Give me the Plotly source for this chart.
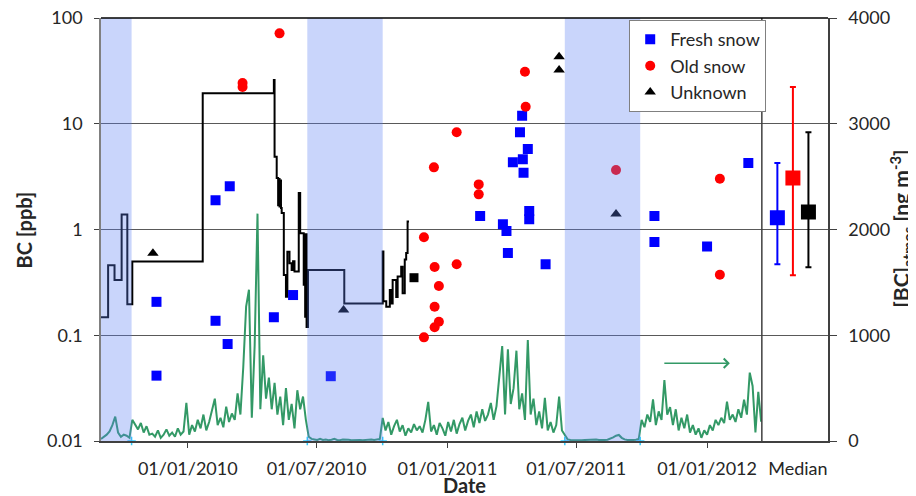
import pandas as pd
import plotly.graph_objects as go

# snow samples, BC in ppb
fresh_dates = ['2009-11-18', '2009-11-18', '2010-02-09', '2010-02-09', '2010-02-26', '2010-03-01',
               '2010-05-02', '2010-05-29', '2010-07-21', '2011-02-16', '2011-03-20', '2011-03-25',
               '2011-03-27', '2011-04-03', '2011-04-13', '2011-04-16', '2011-04-17', '2011-04-18',
               '2011-04-24', '2011-04-26', '2011-04-26', '2011-05-19', '2011-10-19', '2011-10-19',
               '2012-01-01', '2012-02-28']
fresh_bc = [0.207, 0.0415, 1.89, 0.137, 0.0826, 2.56,
            0.148, 0.24, 0.041, 1.34, 1.12, 0.968,
            0.60, 4.32, 8.3, 11.9, 4.61, 3.44,
            5.77, 1.50, 1.25, 0.469, 1.34, 0.762,
            0.689, 4.25]

old_dates = ['2010-03-19', '2010-03-19', '2010-05-10', '2010-11-29', '2010-11-29', '2010-12-13',
             '2010-12-14', '2010-12-14', '2010-12-14', '2010-12-20', '2010-12-20', '2011-01-14',
             '2011-01-14', '2011-02-14', '2011-02-14', '2011-04-20', '2011-04-21', '2011-08-26',
             '2012-01-19', '2012-01-19']
old_bc = [24.3, 22.3, 71.6, 0.844, 0.0955, 3.87,
          0.442, 0.186, 0.119, 0.292, 0.134, 8.3,
          0.469, 2.67, 2.15, 31.0, 14.5, 3.65,
          3.02, 0.374]

unknown_dates = ['2009-11-13', '2010-08-08', '2011-06-07', '2011-06-07', '2011-08-26']
unknown_bc = [0.595, 0.173, 43.1, 32.2, 1.40]

extra_dates = ['2010-11-15']
extra_bc = [0.35]

# step line (ppb)
step_dates = ['2009-09-01', '2009-09-11', '2009-09-20', '2009-09-30', '2009-10-08', '2009-10-15',
              '2010-01-22', '2010-05-02', '2010-05-03', '2010-05-06', '2010-05-08', '2010-05-09',
              '2010-05-10', '2010-05-11', '2010-05-12', '2010-05-13', '2010-05-16', '2010-05-19',
              '2010-05-21', '2010-05-24', '2010-05-27', '2010-05-29', '2010-05-31', '2010-06-06',
              '2010-06-08', '2010-06-13', '2010-06-14', '2010-06-15', '2010-06-16', '2010-06-17',
              '2010-06-19', '2010-08-09', '2010-10-02', '2010-10-03', '2010-10-07', '2010-10-12',
              '2010-10-14', '2010-10-16', '2010-10-21', '2010-10-23', '2010-10-28', '2010-10-30',
              '2010-11-02', '2010-11-04', '2010-11-06', '2010-11-08']
step_bc = [0.148, 0.46, 0.333, 1.39, 0.196, 0.497,
           19.4, 25.9, 4.88, 3.07, 1.7, 3.0,
           1.65, 2.9, 1.6, 1.43, 0.372, 0.231,
           0.617, 0.479, 0.414, 0.5, 0.40, 2.21,
           0.92, 0.3, 0.9, 0.15, 0.9, 0.12,
           0.414, 0.2, 0.62, 0.21, 0.186, 0.268,
           0.2, 0.333, 0.23, 0.36, 0.445, 0.25,
           0.519, 0.6, 1.19, 1.19]

# atmospheric BC (ng m-3), one value every 4 days from 1 Sep 2009
atmos_start = '2009-09-01'
atmos_bc = [20, 40, 60, 90, 150, 230, 80, 40, 60, 50, 30,
            200, 150, 110, 170, 80, 140, 60,
            70, 40, 100, 30, 60, 110, 50, 80, 40, 120, 60, 90,
            360,
            60, 150, 90, 200, 120, 250, 100, 180, 300, 400, 150, 220, 130, 325, 180, 260, 200,
            450, 250,
            700, 1270, 1430, 220, 900, 2150, 300, 810, 400, 600, 300, 550, 250, 420, 150, 500,
            200, 350, 120, 480, 300, 420, 200,
            40, 20, 15, 10, 20, 10, 15, 8, 12, 20, 10, 8, 15, 10, 12, 8, 10, 15, 10, 8, 12, 10,
            15, 10, 12, 20,
            218,
            100, 180, 60, 140, 200, 90, 150, 50, 120, 80, 160,
            100, 140, 80, 200, 370, 90, 150, 60, 170, 120, 50, 180, 90, 200, 70, 160, 220, 100,
            190, 250, 130, 280, 170, 300, 190, 250, 360, 200, 330,
            600, 898, 250, 867, 350, 500, 854, 300, 450, 200, 955, 250, 400, 150, 280, 120, 407,
            100, 180, 80, 150, 420, 100, 50,
            15, 10, 8, 12, 10, 8, 10, 12, 8, 10, 15, 10, 8, 10, 12, 20, 35, 50, 57, 30, 15, 10,
            8, 10, 12, 20,
            200, 130, 250, 180, 394, 150, 280, 200, 577, 250, 320, 150, 300, 100, 220, 120, 250,
            80, 150, 60, 120, 30, 100, 60, 150, 100, 200, 150, 220, 170, 372, 200, 250, 180, 300,
            220, 390, 250, 646, 520, 80, 466, 182]
atmos_dates = pd.date_range(atmos_start, periods=len(atmos_bc), freq='4D')

# snow-free periods
band_starts = ['2009-09-01', '2010-06-18', '2011-06-15']
band_ends = ['2009-10-14', '2010-10-02', '2011-09-29']

# medians (ppb)
median_names = ['Fresh snow', 'Old snow', 'Unknown']
median_bc = [1.29, 3.07, 1.46]
median_hi = [4.26, 22.3, 8.3]
median_lo = [0.47, 0.37, 0.44]
median_colors = ['#0000ff', '#ff0000', '#000000']

date_ticks = ['2010-01-01', '2010-07-01', '2011-01-01', '2011-07-01', '2012-01-01']
bc_ticks = [0.01, 0.1, 1, 10, 100]
bc_ticktext = ['0.01', '0.1', '1', '10', '100']
atmos_ticks = [0, 1000, 2000, 3000, 4000]

fig = go.Figure()

fig.add_trace(go.Scatter(x=atmos_dates, y=atmos_bc, xaxis='x', yaxis='y2', mode='lines',
                         line=dict(color='#339966', width=2), showlegend=False))

fig.add_trace(go.Scatter(x=step_dates, y=step_bc, mode='lines', line_shape='hv',
                         line=dict(color='black', width=2), showlegend=False))

fig.add_trace(go.Scatter(x=fresh_dates, y=fresh_bc, mode='markers', name='Fresh snow',
                         marker=dict(symbol='square', size=10, color='#0000ff')))
fig.add_trace(go.Scatter(x=old_dates, y=old_bc, mode='markers', name='Old snow',
                         marker=dict(symbol='circle', size=10, color='#ff0000')))
fig.add_trace(go.Scatter(x=unknown_dates, y=unknown_bc, mode='markers', name='Unknown',
                         marker=dict(symbol='triangle-up', size=10, color='black')))
fig.add_trace(go.Scatter(x=extra_dates, y=extra_bc, mode='markers', showlegend=False,
                         marker=dict(symbol='square', size=9, color='black')))

edge_dates = band_ends + band_starts[1:]
fig.add_trace(go.Scatter(x=edge_dates, y=[0] * len(edge_dates), xaxis='x', yaxis='y2',
                         mode='markers', showlegend=False, cliponaxis=False,
                         marker=dict(symbol='cross-thin', size=6, line=dict(color='#33ccff', width=1.5))))

for i, name in enumerate(median_names):
    fig.add_trace(go.Scatter(
        x=[i + 1], y=[median_bc[i]], xaxis='x2', yaxis='y', mode='markers', showlegend=False,
        marker=dict(symbol='square', size=15, color=median_colors[i]),
        error_y=dict(type='data', symmetric=False,
                     array=[median_hi[i] - median_bc[i]],
                     arrayminus=[median_bc[i] - median_lo[i]],
                     color=median_colors[i], thickness=2, width=3)))

shapes = []
for s, e in zip(band_starts, band_ends):
    shapes.append(dict(type='rect', xref='x', yref='y domain', x0=s, x1=e, y0=0, y1=1,
                       fillcolor='rgba(91,127,242,0.33)', line=dict(width=0), layer='above'))
shapes.append(dict(type='line', xref='x2 domain', yref='paper', x0=0, x1=0, y0=0, y1=1,
                   line=dict(color='#404040', width=1.5)))
shapes.append(dict(type='line', xref='paper', yref='paper', x0=0, x1=1, y0=1, y1=1,
                   line=dict(color='black', width=1.5)))

axis_font = dict(family='Lato', size=18, color='#262626')
title_font = dict(family='Lato', size=20, color='#262626')

# the page body adds an 8 px margin, so the figure is 8 px smaller on each side
fig.update_layout(
    width=908, height=488,
    margin=dict(l=93, r=88, t=10, b=55),
    paper_bgcolor='white', plot_bgcolor='white',
    font=axis_font,
    shapes=shapes,
    xaxis=dict(domain=[0, 0.909], type='date', range=['2009-09-01', '2012-03-18'],
               tickvals=date_ticks, tickformat='%d/%m/%Y', ticks='outside', ticklen=5,
               tickcolor='#404040', showline=True, linecolor='#404040', linewidth=1.5,
               showgrid=False, zeroline=False, anchor='y', ticklabelstandoff=6,
               automargin=False),
    xaxis2=dict(domain=[0.909, 1], range=[0, 4.26], tickvals=[2.32], ticktext=['Median'],
                ticks='', showline=True, linecolor='#404040', linewidth=1.5,
                showgrid=False, zeroline=False, anchor='y', ticklabelstandoff=11,
                automargin=False),
    yaxis=dict(type='log', range=[-2, 2], tickvals=bc_ticks, ticktext=bc_ticktext,
               ticks='outside', ticklen=5, tickcolor='#404040', showline=True,
               linecolor='#808080', linewidth=1.5, showgrid=True, gridcolor='#595959',
               gridwidth=1, zeroline=False, anchor='x', ticklabelstandoff=8,
               automargin=False, ticklabeloverflow='allow'),
    yaxis2=dict(overlaying='y', side='right', anchor='x2', range=[0, 4000],
                tickvals=atmos_ticks, ticks='outside', ticklen=7, tickcolor='#404040',
                showline=True, linecolor='#404040', linewidth=1.5, showgrid=False,
                zeroline=False, ticklabelstandoff=8, automargin=False,
                ticklabeloverflow='allow'),
    legend=dict(x=0.915, y=0.995, xanchor='right', yanchor='top', bgcolor='white',
                bordercolor='#808080', borderwidth=1, itemwidth=30,
                font=dict(family='Lato', size=18, color='#262626')),
    annotations=[
        dict(text='<b>BC [ppb]</b>', xref='paper', yref='paper', x=-0.106, y=0.5,
             xanchor='center', yanchor='middle', textangle=-90, showarrow=False,
             font=title_font),
        dict(text='<b>Date</b>', xref='paper', yref='paper', x=0.5, y=-0.104,
             xanchor='center', yanchor='middle', showarrow=False, font=title_font),
        dict(text='<b>[BC]<sub>atmos</sub> [ng m<sup>-3</sup>]</b>', xref='paper', yref='paper',
             x=1.1, y=0.501, xanchor='center', yanchor='middle', textangle=-90,
             showarrow=False, font=dict(family='Lato', size=21, color='#262626')),
        dict(x='2012-02-02', y=735, xref='x', yref='y2', ax=-67, ay=0, text='',
             showarrow=True, arrowhead=4, arrowsize=1.2, arrowwidth=1.5, arrowcolor='#339966'),
    ],
)

fig.write_html("out.html")
